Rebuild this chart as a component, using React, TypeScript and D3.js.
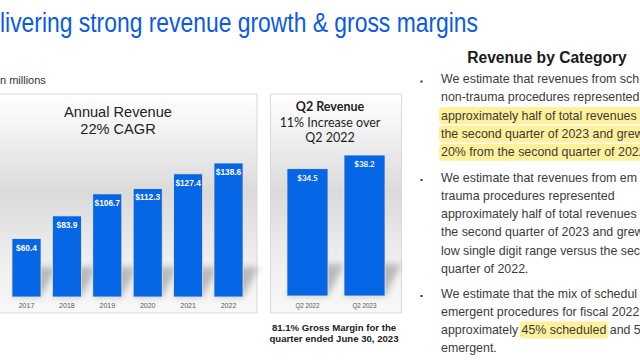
import React, { useEffect, useRef } from "react";
import * as d3 from "d3";

const years = ["2017", "2018", "2019", "2020", "2021", "2022"];
const annualRevenue = [60.4, 83.9, 106.7, 112.3, 127.4, 138.6];
const quarters = ["Q2 2022", "Q2 2023"];
const q2Revenue = [34.5, 38.2];

const titleText = "livering strong revenue growth & gross margins";
const unitText = "n millions";
const annualTitle = ["Annual Revenue", "22% CAGR"];
const q2Title = ["Q2 Revenue", "11% Increase over", "Q2 2022"];
const marginNote = ["81.1% Gross Margin for the", "quarter ended June 30, 2023"];
const categoryTitle = "Revenue by Category";

// each line: list of [text, highlighted]
type Seg = [string, boolean];
const bullet1: Seg[][] = [
  [["We estimate that revenues from sch", false]],
  [["non-trauma procedures represented", false]],
  [["approximately half of total revenues", true]],
  [["the second quarter of 2023 and grew", true]],
  [["20% from the second quarter of 2022", true]],
];
const bullet2: Seg[][] = [
  [["We estimate that revenues from em", false]],
  [["trauma procedures represented", false]],
  [["approximately half of total revenues", false]],
  [["the second quarter of 2023 and grew", false]],
  [["low single digit range versus the sec", false]],
  [["quarter of 2022.", false]],
];
const bullet3: Seg[][] = [
  [["We estimate that the mix of schedul", false]],
  [["emergent procedures for fiscal 2022", false]],
  [["approximately ", false], ["45% scheduled", true], [" and 5", false]],
  [["emergent.", false]],
];
const bullets = [bullet1, bullet2, bullet3];

const W = 640;
const H = 360;
const SANS = "'Liberation Sans', Arial, sans-serif";
const CAL = "Lato, 'Open Sans', sans-serif";
const BLUE = "#0566e6";

export default function App() {
  const ref = useRef<SVGSVGElement | null>(null);

  useEffect(() => {
    const svg = d3.select(ref.current!);
    svg.selectAll("*").remove();

    const defs = svg.append("defs");
    const grad = defs
      .append("linearGradient")
      .attr("id", "panelGrad")
      .attr("x1", 0)
      .attr("y1", 0)
      .attr("x2", 0)
      .attr("y2", 1);
    [
      [0, "#ffffff"],
      [0.12, "#f6f6f6"],
      [0.45, "#dadada"],
      [0.75, "#eeeeee"],
      [1, "#f8f8f8"],
    ].forEach(([o, c]) => grad.append("stop").attr("offset", o as number).attr("stop-color", c as string));
    const blur = defs.append("filter").attr("id", "shadowBlur").attr("x", -0.5).attr("y", -0.5).attr("width", 2).attr("height", 2);
    blur.append("feGaussianBlur").attr("stdDeviation", 3);

    svg.append("rect").attr("width", W).attr("height", H).attr("fill", "#ffffff");

    // Title
    svg
      .append("text")
      .attr("x", 0)
      .attr("y", 32)
      .attr("font-family", SANS)
      .attr("font-size", 27)
      .attr("fill", "#0a5ae6")
      .attr("textLength", 478)
      .attr("lengthAdjust", "spacingAndGlyphs")
      .text(titleText);

    svg
      .append("text")
      .attr("x", 0)
      .attr("y", 84)
      .attr("font-family", SANS)
      .attr("font-size", 11)
      .attr("fill", "#333")
      .text(unitText);

    // ---------- Annual panel ----------
    const aTop = 94,
      aBottom = 313;
    svg
      .append("rect")
      .attr("x", -2)
      .attr("y", aTop)
      .attr("width", 259)
      .attr("height", aBottom - aTop)
      .attr("fill", "url(#panelGrad)")
      .attr("stroke", "#d9d9d9");

    svg
      .selectAll("text.atitle")
      .data(annualTitle)
      .join("text")
      .attr("class", "atitle")
      .attr("x", 118)
      .attr("y", (d, i) => 117 + i * 17)
      .attr("text-anchor", "middle")
      .attr("font-family", SANS)
      .attr("font-size", 14.6)
      .attr("fill", "#222")
      .text((d) => d);

    const xA = d3.scaleBand<string>().domain(years).range([6.3, 248.7]).paddingInner(0.28).paddingOuter(0.14);
    const yA = d3.scaleLinear().domain([0, d3.max(annualRevenue)!]).range([297, 163]);
    const aData = years.map((y, i) => ({ y, v: annualRevenue[i] }));

    const aG = svg.append("g");
    aG.selectAll("polygon")
      .data(aData)
      .join("polygon")
      .attr("points", (d) => {
        const x = xA(d.y)!;
        const w = xA.bandwidth();
        const b = yA(0);
        return [
          [x, b],
          [x + w, b],
          [x + w + 16, b - 30],
          [x + 16, b - 30],
        ]
          .map((p) => p.join(","))
          .join(" ");
      })
      .attr("fill", "#8c8c8c")
      .attr("opacity", 0.55)
      .attr("filter", "url(#shadowBlur)");

    aG.selectAll("rect")
      .data(aData)
      .join("rect")
      .attr("x", (d) => xA(d.y)!)
      .attr("y", (d) => yA(d.v))
      .attr("width", xA.bandwidth())
      .attr("height", (d) => yA(0) - yA(d.v))
      .attr("fill", BLUE)
      .attr("stroke", "#f2e6cf")
      .attr("stroke-width", 0.8);

    aG.selectAll("text.val")
      .data(aData)
      .join("text")
      .attr("class", "val")
      .attr("x", (d) => xA(d.y)! + xA.bandwidth() / 2)
      .attr("y", (d) => yA(d.v) + 12)
      .attr("text-anchor", "middle")
      .attr("font-family", SANS)
      .attr("font-weight", "bold")
      .attr("font-size", 8.3)
      .attr("fill", "#ffffff")
      .text((d) => `$${d.v.toFixed(1)}`);

    aG.selectAll("text.yr")
      .data(aData)
      .join("text")
      .attr("class", "yr")
      .attr("x", (d) => xA(d.y)! + xA.bandwidth() / 2)
      .attr("y", 307.5)
      .attr("text-anchor", "middle")
      .attr("font-family", SANS)
      .attr("font-size", 7)
      .attr("fill", "#555")
      .text((d) => d.y);

    // ---------- Q2 panel ----------
    svg
      .append("rect")
      .attr("x", 270.5)
      .attr("y", aTop)
      .attr("width", 131)
      .attr("height", aBottom - aTop)
      .attr("fill", "url(#panelGrad)")
      .attr("stroke", "#d9d9d9");

    svg
      .selectAll("text.qtitle")
      .data(q2Title)
      .join("text")
      .attr("class", "qtitle")
      .attr("x", 330)
      .attr("y", (d, i) => 111 + i * 15.5)
      .attr("text-anchor", "middle")
      .attr("font-family", CAL)
      .attr("font-weight", (d, i) => (i === 0 ? "bold" : "normal"))
      .attr("font-size", 12.5)
      .attr("fill", "#1f1f1f")
      .text((d) => d);

    const xQ = d3.scaleBand<string>().domain(quarters).range([271, 401]).paddingInner(0.28).paddingOuter(0.28);
    const yQ = d3.scaleLinear().domain([0, d3.max(q2Revenue)!]).range([296, 155]);
    const qData = quarters.map((q, i) => ({ q, v: q2Revenue[i] }));
    const qG = svg.append("g");
    qG.selectAll("polygon")
      .data(qData)
      .join("polygon")
      .attr("points", (d) => {
        const x = xQ(d.q)!;
        const w = xQ.bandwidth();
        const b = yQ(0);
        return [
          [x, b],
          [x + w, b],
          [x + w + 16, b - 32],
          [x + 16, b - 32],
        ]
          .map((p) => p.join(","))
          .join(" ");
      })
      .attr("fill", "#8c8c8c")
      .attr("opacity", 0.55)
      .attr("filter", "url(#shadowBlur)");

    qG.selectAll("rect")
      .data(qData)
      .join("rect")
      .attr("x", (d) => xQ(d.q)!)
      .attr("y", (d) => yQ(d.v))
      .attr("width", xQ.bandwidth())
      .attr("height", (d) => yQ(0) - yQ(d.v))
      .attr("fill", BLUE)
      .attr("stroke", "#f2e6cf")
      .attr("stroke-width", 0.8);

    qG.selectAll("text.val")
      .data(qData)
      .join("text")
      .attr("class", "val")
      .attr("x", (d) => xQ(d.q)! + xQ.bandwidth() / 2)
      .attr("y", (d) => yQ(d.v) + 12)
      .attr("text-anchor", "middle")
      .attr("font-family", CAL)
      .attr("font-weight", "bold")
      .attr("font-size", 8)
      .attr("fill", "#ffffff")
      .text((d) => `$${d.v.toFixed(1)}`);

    qG.selectAll("text.ql")
      .data(qData)
      .join("text")
      .attr("class", "ql")
      .attr("x", (d) => xQ(d.q)! + xQ.bandwidth() / 2)
      .attr("y", 307.5)
      .attr("text-anchor", "middle")
      .attr("font-family", SANS)
      .attr("font-size", 6.3)
      .attr("fill", "#555")
      .text((d) => d.q);

    svg
      .selectAll("text.note")
      .data(marginNote)
      .join("text")
      .attr("class", "note")
      .attr("x", 334)
      .attr("y", (d, i) => 330.5 + i * 11)
      .attr("text-anchor", "middle")
      .attr("font-family", SANS)
      .attr("font-weight", "bold")
      .attr("font-size", 9.6)
      .attr("fill", "#222")
      .text((d) => d);

    // ---------- Revenue by Category ----------
    svg
      .append("text")
      .attr("x", 547)
      .attr("y", 62.5)
      .attr("text-anchor", "middle")
      .attr("font-family", SANS)
      .attr("font-weight", "bold")
      .attr("font-size", 15.6)
      .attr("fill", "#1a1a1a")
      .text(categoryTitle);

    const hlG = svg.append("g");
    const txG = svg.append("g");
    const textX = 441;
    const lineH = 18.3;
    const bulletStarts = [83, 181.5, 297.5];
    bullets.forEach((lines, bi) => {
      const y0 = bulletStarts[bi];
      txG
        .append("rect")
        .attr("x", 420.5)
        .attr("y", y0 - 2.5)
        .attr("width", 2)
        .attr("height", 2)
        .attr("fill", "#333");
      lines.forEach((segs, li) => {
        const y = y0 + li * lineH;
        const t = txG
          .append("text")
          .attr("x", textX)
          .attr("y", y)
          .attr("font-family", SANS)
          .attr("font-size", 12.4)
          .attr("fill", "#3b3b3b");
        const spans = segs.map(([s]) => t.append("tspan").text(s));
        let cursor = textX;
        segs.forEach(([s, hl], si) => {
          const node = spans[si].node() as SVGTSpanElement;
          const len = node.getComputedTextLength();
          if (hl) {
            const last = si === segs.length - 1;
            const wid = last ? Math.max(len + 4, W + 6 - cursor) : len + 4;
            hlG
              .append("rect")
              .attr("x", cursor - 2)
              .attr("y", y - 12.5)
              .attr("width", wid)
              .attr("height", 17)
              .attr("rx", 4)
              .attr("fill", "#fff09a");
          }
          cursor += len;
        });
      });
    });
  }, []);

  return (
    <svg
      ref={ref}
      width={W}
      height={H}
      style={{ position: "absolute", left: 0, top: 0, display: "block" }}
    />
  );
}
